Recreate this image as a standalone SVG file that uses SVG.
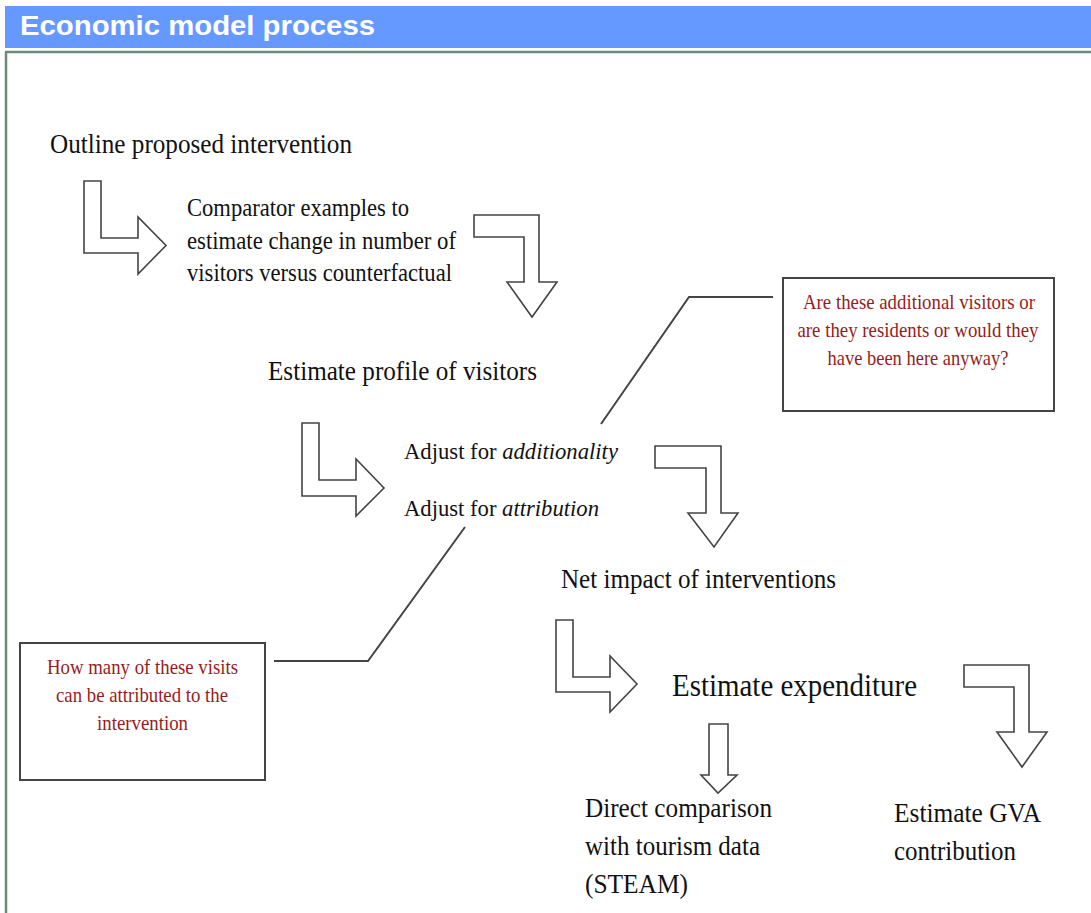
<svg xmlns="http://www.w3.org/2000/svg" width="1091" height="913" viewBox="0 0 1091 913">
<style>
.c{fill:#961c1c;text-anchor:middle;}
.arr{fill:#fff;stroke:#444;stroke-width:1.6;stroke-linejoin:miter;}
.box{fill:#fff;stroke:#444;stroke-width:2;}
.ln{fill:none;stroke:#444;stroke-width:2;}
</style>
<rect x="0" y="0" width="1091" height="913" fill="#fff"/>
<g id="header">
<rect x="5" y="6" width="1086" height="42" fill="#6699ff"/>
<text x="20" y="35" font-family="Liberation Sans, Arial, sans-serif" font-weight="bold" font-size="28" fill="#fff" textLength="355" lengthAdjust="spacingAndGlyphs">Economic model process</text>
<path d="M5 52 H1091 M6 52 V913" fill="none" stroke="#6b8a78" stroke-width="2.5"/>
</g>
<g id="connectors">
<polygon class="arr" points="84,181 101,181 101,238 138,238 138,217 166,245.5 138,274 138,253 84,253"/>
<polygon class="arr" points="474,215 539,215 539,282 557,282 532,317 507,282 524,282 524,237 474,237"/>
<polygon class="arr" points="302,423 319,423 319,480 356,480 356,459 384,488 356,516 356,496 302,496"/>
<polygon class="arr" points="655,446 721,446 721,513 738,513 714,547 688,513 706,513 706,468 655,468"/>
<polygon class="arr" points="556,620 573,620 573,677 610,677 610,656 637,684 610,712 610,692 556,692"/>
<polygon class="arr" points="964,665 1029,665 1029,732 1047,732 1022,767 997,732 1014,732 1014,687 964,687"/>
<polygon class="arr" points="709,724 728,724 728,775 737,775 718,793 701,775 709,775"/>
<polyline class="ln" points="601,424 689,297 773,297"/>
<polyline class="ln" points="274,661 368,661 465,527"/>
</g>
<g font-family="Liberation Serif, Times New Roman, serif" fill="#111">
<g id="n-outline"><text x="50" y="153" font-size="28" textLength="302" lengthAdjust="spacingAndGlyphs">Outline proposed intervention</text></g>
<g id="n-comparator">
<text x="187" y="216" font-size="25" textLength="222" lengthAdjust="spacingAndGlyphs">Comparator examples to</text>
<text x="187" y="249" font-size="25" textLength="269" lengthAdjust="spacingAndGlyphs">estimate change in number of</text>
<text x="187" y="281" font-size="25" textLength="265" lengthAdjust="spacingAndGlyphs">visitors versus counterfactual</text>
</g>
<g id="n-profile"><text x="268" y="380" font-size="28" textLength="269" lengthAdjust="spacingAndGlyphs">Estimate profile of visitors</text></g>
<g id="n-additionality"><text x="404" y="459" font-size="24" textLength="214" lengthAdjust="spacingAndGlyphs">Adjust for <tspan font-style="italic">additionality</tspan></text></g>
<g id="n-attribution"><text x="404" y="516" font-size="24" textLength="195" lengthAdjust="spacingAndGlyphs">Adjust for <tspan font-style="italic">attribution</tspan></text></g>
<g id="n-net"><text x="561" y="588" font-size="28" textLength="275" lengthAdjust="spacingAndGlyphs">Net impact of interventions</text></g>
<g id="n-expenditure"><text x="672" y="696" font-size="32" textLength="245" lengthAdjust="spacingAndGlyphs">Estimate expenditure</text></g>
<g id="n-direct">
<text x="585" y="817" font-size="28" textLength="187" lengthAdjust="spacingAndGlyphs">Direct comparison</text>
<text x="585" y="855" font-size="28" textLength="175" lengthAdjust="spacingAndGlyphs">with tourism data</text>
<text x="585" y="893" font-size="28" textLength="103" lengthAdjust="spacingAndGlyphs">(STEAM)</text>
</g>
<g id="n-gva">
<text x="894" y="822" font-size="28" textLength="147" lengthAdjust="spacingAndGlyphs">Estimate GVA</text>
<text x="894" y="860" font-size="28" textLength="122" lengthAdjust="spacingAndGlyphs">contribution</text>
</g>
</g>
<g font-family="Liberation Serif, Times New Roman, serif" font-size="22">
<g id="callout-additional">
<rect class="box" x="783" y="278" width="271" height="133"/>
<text class="c" x="919" y="309" textLength="232" lengthAdjust="spacingAndGlyphs">Are these additional visitors or</text>
<text class="c" x="918" y="337" textLength="241" lengthAdjust="spacingAndGlyphs">are they residents or would they</text>
<text class="c" x="918" y="365" textLength="181" lengthAdjust="spacingAndGlyphs">have been here anyway?</text>
</g>
<g id="callout-attribution">
<rect class="box" x="20" y="643" width="245" height="137"/>
<text class="c" x="142.5" y="674" textLength="191" lengthAdjust="spacingAndGlyphs">How many of these visits</text>
<text class="c" x="142" y="702" textLength="172" lengthAdjust="spacingAndGlyphs">can be attributed to the</text>
<text class="c" x="142.5" y="730" textLength="91" lengthAdjust="spacingAndGlyphs">intervention</text>
</g>
</g>
</svg>
